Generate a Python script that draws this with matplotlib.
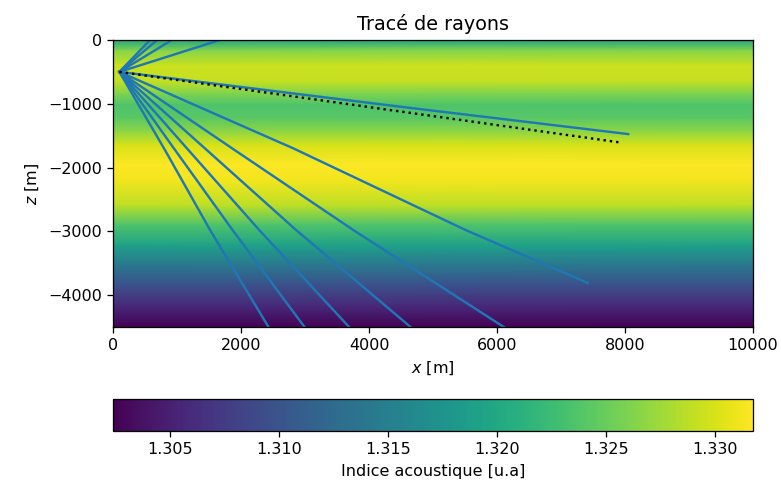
import numpy as np
import matplotlib
matplotlib.use("Agg")
import matplotlib.pyplot as plt

# acoustic index profile (depth in m)
depth = [0, -170, -400, -640, -850, -1020, -1220, -1450, -1650, -1960,
         -2210, -2590, -2900, -3220, -3530, -3840, -4160, -4500]
index = [1.3194, 1.3264, 1.3294, 1.3291, 1.3259, 1.3235, 1.3241, 1.3270, 1.3300, 1.3317,
         1.3311, 1.3288, 1.3235, 1.3191, 1.3141, 1.3097, 1.3059, 1.3024]
n_min, n_max = 1.30238, 1.33172
x_range = [0, 10000]

# source
x_src, z_src = 100, -500

# rays going up (to the surface)
rays_up_x = [[x_src, 580], [x_src, 690], [x_src, 920], [x_src, 1670]]
rays_up_z = [[z_src, 0], [z_src, 0], [z_src, 0], [z_src, 0]]

# rays going down
rays_down_x = [
    [x_src, 4480, 8050],
    [x_src, 2820, 5510, 7420],
    [x_src, 1900, 3755, 6106],
    [x_src, 1465, 2861, 4649],
    [x_src, 1178, 2285, 3689],
    [x_src, 970, 1868, 2993],
    [x_src, 812, 1517, 2430],
]
rays_down_z = [
    [z_src, -1045, -1475],
    [z_src, -1700, -2980, -3810],
    [z_src, -1725, -2980, -4500],
    [z_src, -1725, -2980, -4500],
    [z_src, -1725, -2980, -4500],
    [z_src, -1725, -2980, -4500],
    [z_src, -1725, -2980, -4500],
]

# straight reference line
ref_x = [x_src, 7950]
ref_z = [z_src, -1610]

fig = plt.figure(figsize=(781 / 115, 487 / 115), dpi=115)
ax = fig.add_axes([113 / 781, 1 - 327 / 487, 640 / 781, 287 / 487])
cax = fig.add_axes([113 / 781, 1 - 431 / 487, 640 / 781, 32 / 487])

X, Z = np.meshgrid(x_range, depth)
C = np.tile(np.array(index)[:, None], (1, len(x_range)))
mesh = ax.pcolormesh(X, Z, C, shading='gouraud', cmap='viridis', vmin=n_min, vmax=n_max)

for xs, zs in zip(rays_up_x, rays_up_z):
    ax.plot(xs, zs, color='C0', lw=1.5)
for xs, zs in zip(rays_down_x, rays_down_z):
    ax.plot(xs, zs, color='C0', lw=1.5)
ax.plot(ref_x, ref_z, 'k:', lw=1.5)

ax.set_xlim(0, 10000)
ax.set_ylim(-4500, 0)
ax.set_xticks([0, 2000, 4000, 6000, 8000, 10000])
ax.set_yticks([0, -1000, -2000, -3000, -4000])
ax.set_xlabel("$x$ [m]")
ax.set_ylabel("$z$ [m]")
ax.set_title("Tracé de rayons")

cb = fig.colorbar(mesh, cax=cax, orientation='horizontal')
cb.set_ticks([1.305, 1.310, 1.315, 1.320, 1.325, 1.330])
cb.set_label("Indice acoustique [u.a]")

fig.savefig("out.png", dpi=115)
